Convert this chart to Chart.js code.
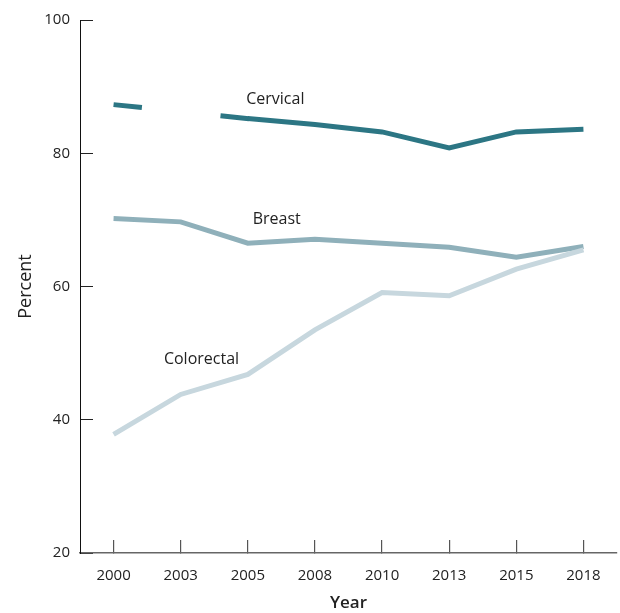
<!DOCTYPE html>
<html>
<head>
<meta charset="utf-8">
<script src="https://cdn.jsdelivr.net/npm/chart.js@4/dist/chart.umd.min.js"></script>
<style>
  html, body { margin: 0; padding: 0; background: #fff; }
  #wrap { width: 620px; height: 613px; }
</style>
</head>
<body>
<div id="wrap"><canvas id="myChart" width="620" height="613"></canvas></div>
<script>
// Survey years (x axis categories)
const years = ['2000', '2003', '2005', '2008', '2010', '2013', '2015', '2018'];

// Screening rates, percent
const cervical = [87.3, null, 85.2, 84.3, 83.2, 80.8, 83.2, 83.6];
const breast = [70.2, 69.7, 66.5, 67.1, 66.5, 65.9, 64.4, 66.0];
const colorectal = [37.8, 43.8, 46.8, 53.5, 59.1, 58.6, 62.6, 65.5];

// Y axis ticks
const yTicks = [20, 40, 60, 80, 100];

// Series labels written next to the lines: [text, category position, value]
const seriesLabels = [
  ['Cervical', 2.41, 88.1],
  ['Breast', 2.43, 70.0],
  ['Colorectal', 1.31, 49.0]
];

const FONT = '"Open Sans", "Noto Sans", sans-serif';
const TEXT = '#222222';

// Draws the series names inside the plot, positioned via the scales
const seriesLabelPlugin = {
  id: 'seriesLabels',
  afterDatasetsDraw(chart) {
    const { ctx, scales: { x, y } } = chart;
    ctx.save();
    ctx.font = '16px ' + FONT;
    ctx.fillStyle = TEXT;
    ctx.textAlign = 'center';
    ctx.textBaseline = 'middle';
    seriesLabels.forEach(([text, xi, yv]) => {
      ctx.fillText(text, x.getPixelForValue(xi), y.getPixelForValue(yv));
    });
    ctx.restore();
  }
};

const lineStyle = {
  borderWidth: 5,
  pointRadius: 0,
  tension: 0,
  fill: false,
  borderCapStyle: 'butt',
  borderJoinStyle: 'miter'
};

// the segment across the missing 2003 value
const isGap = c => c.p1DataIndex === 2;

const ctx = document.getElementById('myChart').getContext('2d');

const myChart = new Chart(ctx, {
  type: 'line',
  data: {
    labels: years,
    datasets: [
      Object.assign({
        label: 'Colorectal',
        data: colorectal,
        borderColor: '#c7d7de'
      }, lineStyle),
      Object.assign({
        label: 'Breast',
        data: breast,
        borderColor: '#8fb0ba'
      }, lineStyle),
      Object.assign({
        label: 'Cervical',
        data: cervical,
        borderColor: '#2c7684',
        spanGaps: true,
        // 2003 is missing: the span over it is drawn broken
        segment: {
          borderDash: c => (isGap(c) ? [23.5, 84] : undefined),
          borderDashOffset: c => (isGap(c) ? -2.5 : undefined),
          borderCapStyle: c => (isGap(c) ? 'square' : undefined)
        }
      }, lineStyle)
    ]
  },
  options: {
    responsive: false,
    animation: false,
    devicePixelRatio: 1,
    layout: { padding: { top: 20, right: 3, left: 0, bottom: 0 } },
    plugins: {
      legend: { display: false },
      tooltip: { enabled: false }
    },
    scales: {
      x: {
        type: 'category',
        offset: true,
        grid: {
          drawOnChartArea: false,
          tickLength: -13,
          color: '#555555',
          lineWidth: 1.2
        },
        border: { display: true, color: '#666666', width: 1.5 },
        ticks: {
          color: TEXT,
          font: { family: FONT, size: 15 },
          padding: 27,
          maxRotation: 0
        },
        title: {
          display: true,
          text: 'Year',
          color: TEXT,
          font: { family: FONT, size: 17, weight: '600' },
          padding: { top: 0, bottom: 0 }
        },
        afterFit(scale) {
          scale.height = 60;
          scale.paddingLeft = 0;
          scale.paddingRight = 0;
        }
      },
      y: {
        min: 20,
        max: 100,
        grid: {
          drawOnChartArea: false,
          tickLength: -13,
          color: '#222222',
          lineWidth: 1
        },
        border: { display: true, color: '#111111', width: 1 },
        afterBuildTicks(scale) {
          scale.ticks = yTicks.map(v => ({ value: v }));
        },
        ticks: {
          color: TEXT,
          font: { family: FONT, size: 15 },
          padding: 23
        },
        title: {
          display: true,
          text: 'Percent',
          color: TEXT,
          font: { family: FONT, size: 18, weight: '500' },
          padding: { top: 15, bottom: 0 }
        },
        afterFit(scale) {
          scale.width = 80;
          scale.paddingTop = 0;
          scale.paddingBottom = 0;
        }
      }
    }
  },
  plugins: [seriesLabelPlugin]
});
</script>
</body>
</html>
